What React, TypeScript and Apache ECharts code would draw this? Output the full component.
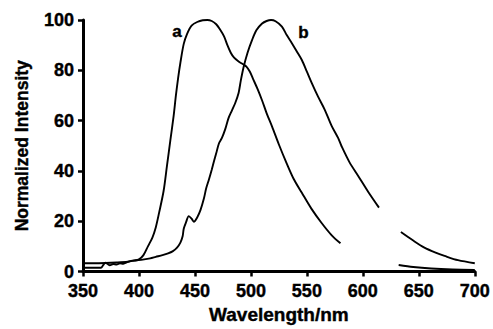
import React, { useEffect, useRef } from "react";
import * as echarts from "echarts";

const xTicks = [350, 700, 50];
const yTicks = [0, 100, 20];

const curveA1: number[][] = [
  [350, 3.3], [360, 3.3], [370, 3.4], [380, 3.6], [390, 3.9], [396, 4.3], [400, 4.8],
  [404, 6.5], [408, 10], [412, 13.5], [415, 17.5], [418, 23.4], [422, 32], [425, 42],
  [428, 52], [431, 62], [433, 70], [435, 77], [437, 83], [440, 90.5], [443, 94.5],
  [447, 97.8], [452, 99.2], [457, 99.9], [461, 100], [465, 99.6], [469, 98.3], [472, 96.5],
  [476, 93.5], [479, 90], [482, 87], [485, 85], [489, 83.5], [493, 82.4], [496, 81.5],
  [499, 79.5], [502, 76.5], [506, 72.5], [510, 68], [514, 63], [519, 57.5], [525, 50.5],
  [531, 44], [538, 37], [545.5, 31.3], [554, 25], [563, 19.4], [572, 14.5], [580, 11.2],
];
const curveA2: number[][] = [
  [632, 2.6], [645, 1.8], [661, 1.2], [680, 0.8], [700, 0.6],
];
const curveB1: number[][] = [
  [350, 1.5], [360, 1.5], [366, 1.5], [368, 2.5], [370, 3.5], [372, 3], [374, 2.5],
  [377, 3], [380, 2.8], [383, 3.3], [386, 3.1], [390, 3.8], [394, 4.3], [398, 4.5],
  [402, 4.6], [410, 5.2], [415, 5.8], [421, 6.5], [426, 7.2], [430, 8], [434, 9.5],
  [437, 11.5], [439, 14], [440, 17], [442, 19.5], [444.5, 22], [447, 21], [449, 19.8],
  [452, 21.5], [455, 24.5], [458, 29], [460, 33], [462.5, 36.6], [465, 40.5], [467, 43.8],
  [469, 47], [471.5, 51], [474, 53], [477, 56.5], [480, 61], [483, 64], [486, 67],
  [489, 71], [491, 76], [493.6, 81.5], [497, 87], [501, 92], [505, 96], [510, 98.6],
  [514, 99.6], [518, 100], [522, 99.5], [527.7, 97.4], [532, 94], [536.6, 90.8],
  [541, 87.5], [545.5, 84.1], [550, 79.5], [554.4, 74.9], [560, 69.5], [566, 64.3],
  [572, 58], [578, 53], [581, 49.8], [588, 43.5], [596, 37.9], [605, 31.5], [614.4, 25.4],
];
const curveB2: number[][] = [
  [634, 15.7], [645, 12.3], [655, 9.5], [665, 7.5], [673, 6.2], [685, 4.5], [700, 3.3],
];
const labelA = { text: "a", at: [434, 95.5] };
const labelB = { text: "b", at: [547, 95] };

const FONT = "'Liberation Sans', Arial, sans-serif";
const bold = { color: "#000", fontWeight: "bold", fontFamily: FONT, textBorderColor: "#000", textBorderWidth: 0.4 };

export default function App() {
  const ref = useRef<HTMLDivElement>(null);
  useEffect(() => {
    if (!ref.current) return;
    const chart = echarts.init(ref.current, undefined, { renderer: "svg" });
    const lineStyle = { color: "#000", width: 1.9 };
    const mk = (lbl: { text: string; at: number[] }) => ({
      symbol: "circle",
      symbolSize: 0,
      silent: true,
      data: [
        {
          coord: lbl.at,
          label: { show: true, formatter: lbl.text, position: "inside", ...bold, fontSize: 17 },
        },
      ],
    });
    const seg = (data: number[][], extra: any = {}) => ({
      type: "line",
      data,
      showSymbol: false,
      symbol: "none",
      smooth: 0.3,
      lineStyle,
      silent: true,
      ...extra,
    });
    const axisCommon = {
      type: "value",
      axisLine: { show: true, onZero: false, lineStyle: { color: "#000", width: 3 } },
      axisTick: { show: true, inside: false, length: 5, lineStyle: { color: "#000", width: 2.5 } },
      splitLine: { show: false },
      axisLabel: { ...bold, fontSize: 18 },
      nameLocation: "middle",
    };
    chart.setOption({
      animation: false,
      grid: { left: 83, right: 16, top: 20, bottom: 57, containLabel: false },
      xAxis: {
        ...axisCommon,
        min: xTicks[0],
        max: xTicks[1],
        interval: xTicks[2],
        name: "Wavelength/nm",
        nameGap: 27,
        nameTextStyle: { ...bold, fontSize: 19 },
        axisLabel: { ...axisCommon.axisLabel, margin: 10 },
      },
      yAxis: {
        ...axisCommon,
        min: yTicks[0],
        max: yTicks[1],
        interval: yTicks[2],
        name: "Normalized Intensity",
        nameGap: 52,
        nameTextStyle: { ...bold, fontSize: 17.5 },
        axisLabel: { ...axisCommon.axisLabel, margin: 9 },
      },
      series: [
        seg(curveA1, { markPoint: mk(labelA) }),
        seg(curveA2),
        seg(curveB1, { markPoint: mk(labelB) }),
        seg(curveB2),
      ],
    });
    return () => chart.dispose();
  }, []);
  return <div ref={ref} style={{ width: 493, height: 329, position: "absolute", left: 0, top: 0 }} />;
}
